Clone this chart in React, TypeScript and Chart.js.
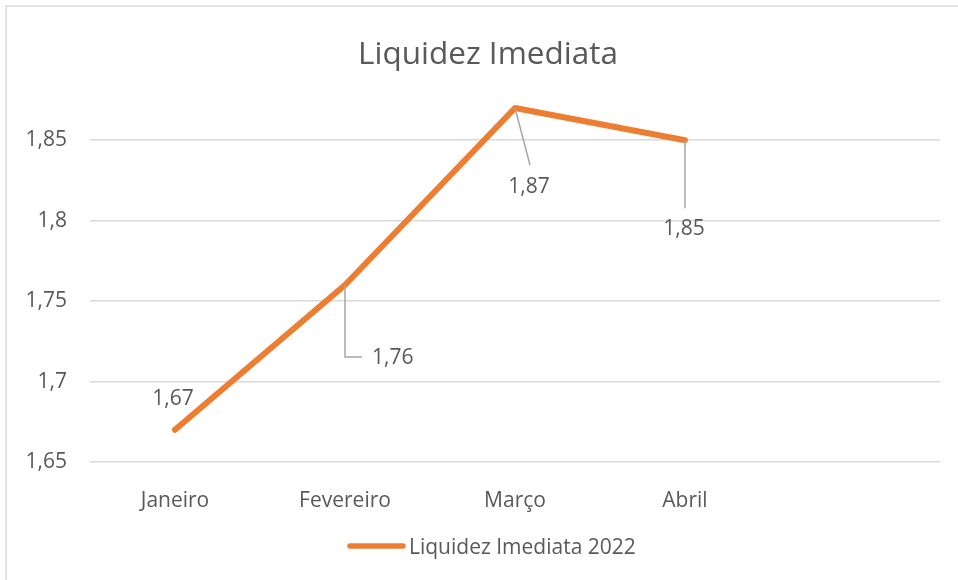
import React, { useEffect, useRef } from "react";
import { Chart, registerables } from "chart.js";

Chart.register(...registerables);

const categories = ["Janeiro", "Fevereiro", "Março", "Abril", ""];
const values: (number | null)[] = [1.67, 1.76, 1.87, 1.85, null];
const seriesName = "Liquidez Imediata 2022";
const chartTitle = "Liquidez Imediata";
const yMin = 1.65;
const yMax = 1.875;
const yStep = 0.05;

const FONT = "'Open Sans', 'DejaVu Sans', sans-serif";
const TEXT = "#595959";
const ORANGE = "#ED7D31";
const GRID = "#D9D9D9";
const LEADER = "#A6A6A6";
const SMALL = 21;

// label placement relative to each point (dx, baseline dy, leader path)
const labelPlacement = [
  { dx: -2, dy: -25, align: "center", leader: null as null | number[][] },
  { dx: 27, dy: 79, align: "left", leader: [[0, 0], [0, 72], [17, 72]] },
  { dx: 14, dy: 85, align: "center", leader: [[0, 0], [15, 57]] },
  { dx: -1, dy: 95, align: "center", leader: [[0, 0], [0, 68]] },
];

const fmt = (v: number) => String(Number(v.toFixed(2))).replace(".", ",");

const decorPlugin = {
  id: "decor",
  beforeDraw(chart: any) {
    const ctx = chart.ctx;
    ctx.save();
    ctx.fillStyle = "#FFFFFF";
    ctx.fillRect(0, 0, chart.width, chart.height);
    ctx.strokeStyle = GRID;
    ctx.lineWidth = 1.5;
    ctx.strokeRect(6, 6, chart.width + 20, chart.height + 20);
    // title
    ctx.fillStyle = TEXT;
    ctx.font = `31.5px ${FONT}`;
    ctx.textAlign = "center";
    ctx.textBaseline = "alphabetic";
    ctx.fillText(chartTitle, 488, 64);
    // legend
    ctx.strokeStyle = ORANGE;
    ctx.lineWidth = 5.5;
    ctx.lineCap = "round";
    ctx.beginPath();
    ctx.moveTo(350, 546);
    ctx.lineTo(403, 546);
    ctx.stroke();
    ctx.fillStyle = TEXT;
    ctx.font = `${SMALL}px ${FONT}`;
    ctx.textAlign = "left";
    ctx.fillText(seriesName, 409, 554);
    ctx.restore();
  },
  afterDatasetsDraw(chart: any) {
    const ctx = chart.ctx;
    const meta = chart.getDatasetMeta(0);
    ctx.save();
    meta.data.forEach((pt: any, i: number) => {
      const v = values[i];
      const p = labelPlacement[i];
      if (v == null || !p) return;
      if (p.leader) {
        ctx.strokeStyle = LEADER;
        ctx.lineWidth = 1.5;
        ctx.beginPath();
        p.leader.forEach(([dx, dy], k) => {
          if (k === 0) ctx.moveTo(pt.x + dx, pt.y + dy);
          else ctx.lineTo(pt.x + dx, pt.y + dy);
        });
        ctx.stroke();
      }
      ctx.fillStyle = TEXT;
      ctx.font = `${SMALL}px ${FONT}`;
      ctx.textAlign = p.align;
      ctx.textBaseline = "alphabetic";
      ctx.fillText(fmt(v), pt.x + p.dx, pt.y + p.dy);
    });
    ctx.restore();
  },
};

export default function App() {
  const ref = useRef<HTMLCanvasElement>(null);
  useEffect(() => {
    if (!ref.current) return;
    const chart = new Chart(ref.current, {
      type: "line",
      data: {
        labels: categories,
        datasets: [
          {
            label: seriesName,
            data: values,
            borderColor: ORANGE,
            backgroundColor: ORANGE,
            borderWidth: 6,
            borderCapStyle: "round",
            borderJoinStyle: "round",
            pointRadius: 0,
            tension: 0,
            spanGaps: false,
          },
        ],
      },
      options: {
        animation: false,
        responsive: false,
        layout: { padding: { top: 100, right: 18, bottom: 0, left: 0 } },
        plugins: {
          legend: { display: false },
          title: { display: false },
          tooltip: { enabled: false },
        },
        scales: {
          x: {
            offset: true,
            grid: { display: false },
            border: { display: false },
            ticks: { color: TEXT, font: { family: FONT, size: SMALL }, padding: 18, maxRotation: 0, autoSkip: false },
            afterFit: (s: any) => { s.height = 118; },
          },
          y: {
            min: yMin,
            max: yMax,
            grid: { color: GRID, lineWidth: 1.5, drawTicks: false },
            border: { display: false },
            ticks: {
              stepSize: yStep,
              color: TEXT,
              font: { family: FONT, size: SMALL },
              padding: 23,
              callback: (v: any) => fmt(Number(v)),
            },
            afterBuildTicks: (axis: any) => {
              axis.ticks = axis.ticks.filter(
                (t: any) => Math.abs(t.value / yStep - Math.round(t.value / yStep)) < 1e-6
              );
            },
            afterFit: (s: any) => { s.width = 90; },
          },
        },
      },
      plugins: [decorPlugin],
    } as any);
    return () => chart.destroy();
  }, []);
  return (
    <div style={{ position: "absolute", left: 0, top: 0, width: 958, height: 580 }}>
      <canvas ref={ref} width={958} height={580} />
    </div>
  );
}
